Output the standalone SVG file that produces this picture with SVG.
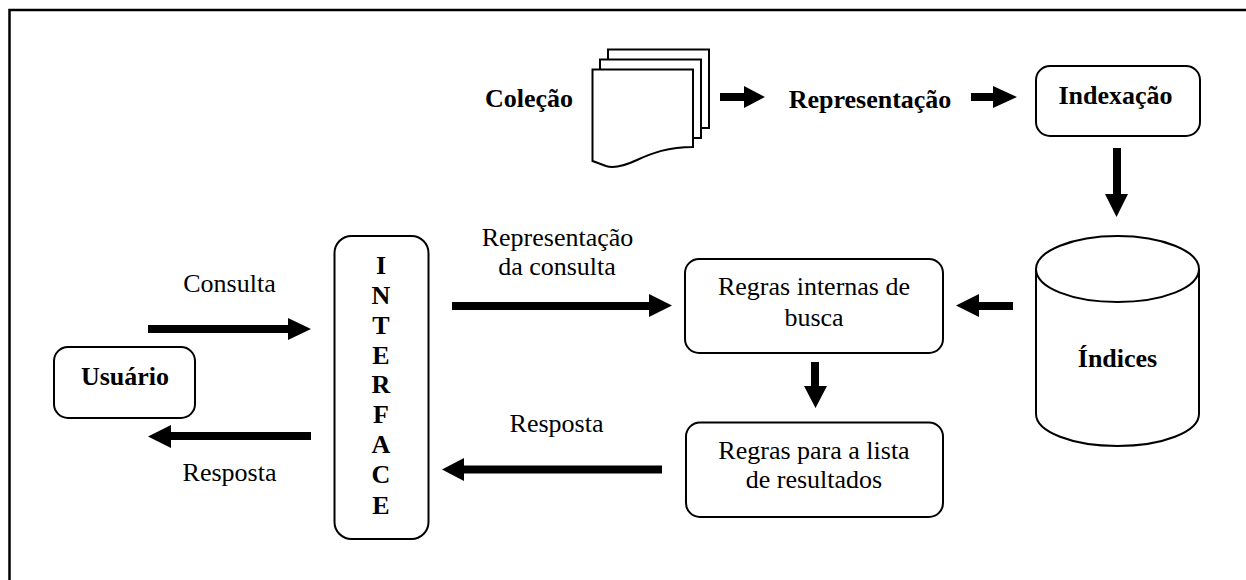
<svg xmlns="http://www.w3.org/2000/svg" width="1246" height="580" viewBox="0 0 1246 580">
<style>
text{font-family:"Liberation Serif","Times New Roman",serif;font-size:26px;fill:#000;text-anchor:middle}
.b{font-weight:bold}
.s{fill:#fff;stroke:#000;stroke-width:2}
.n{fill:none;stroke:#000;stroke-width:2}
.a{fill:#000;stroke:none}
</style>
<rect x="0" y="0" width="1246" height="580" fill="#fff"/>
<path d="M9.5 580V10H1246" fill="none" stroke="#000" stroke-width="2.5"/>
<g id="colecao">
<text class="b" x="529" y="107">Coleção</text>
<rect class="s" x="608" y="49.500" width="101" height="78.500"/>
<rect class="s" x="600" y="59.500" width="101" height="78.500"/>
<path class="s" d="M592.500 69.500H693V147C668 147 652 153 637 160C622 167 612 168 606 166L592.500 161Z"/>
</g>
<g id="representacao"><text class="b" x="870" y="108">Representação</text></g>
<g id="indexacao"><rect class="s" x="1036" y="66" width="164" height="70" rx="14"/><text class="b" x="1115.500" y="104">Indexação</text></g>
<g id="indices">
<path class="s" d="M1036 269V414C1036 432 1073 446 1117.500 446C1162 446 1199 432 1199 414V269C1199 251 1162 236 1117.500 236C1073 236 1036 251 1036 269Z"/>
<path class="n" d="M1036 269C1036 288 1073 302 1117.500 302C1162 302 1199 288 1199 269"/>
<text class="b" x="1117.500" y="367">Índices</text>
</g>
<g id="usuario"><rect class="s" x="54" y="347" width="141" height="71" rx="14"/><text class="b" x="125" y="385">Usuário</text></g>
<g id="interface">
<rect class="s" x="334.500" y="236" width="94" height="303" rx="17"/>
<text class="b" x="381" y="274">I</text>
<text class="b" x="381" y="304">N</text>
<text class="b" x="381" y="334">T</text>
<text class="b" x="381" y="364">E</text>
<text class="b" x="381" y="393">R</text>
<text class="b" x="381" y="423">F</text>
<text class="b" x="381" y="453">A</text>
<text class="b" x="381" y="483">C</text>
<text class="b" x="381" y="514">E</text>
</g>
<g id="regras-busca"><rect class="s" x="685" y="259" width="258" height="94" rx="14"/><text x="814" y="295">Regras internas de</text><text x="814" y="326">busca</text></g>
<g id="regras-lista"><rect class="s" x="686" y="422.500" width="257" height="94.500" rx="14"/><text x="814" y="459">Regras para a lista</text><text x="814" y="488">de resultados</text></g>
<g id="labels">
<text x="229.500" y="292">Consulta</text>
<text x="229.500" y="481">Resposta</text>
<text x="557.500" y="246">Representação</text>
<text x="557" y="275">da consulta</text>
<text x="556.500" y="432">Resposta</text>
</g>
<g id="connectors" class="a">
<path d="M720 93H744V86L765 97L744 108V101H720Z"/>
<path d="M971 93H993V86L1017 97L993 108V101H971Z"/>
<path d="M1113 148H1121V194H1128L1116.500 217L1105 194H1113Z"/>
<path d="M148 325H288V318L311 329L288 340V333H148Z"/>
<path d="M311 432H171V425L148 436.500L171 448V440H311Z"/>
<path d="M452 302H649V294L672 305.500L649 317V310H452Z"/>
<path d="M1013 302H979V294L956 305.500L979 317V310H1013Z"/>
<path d="M811 362H819V386H827L815.500 408L804 386H811Z"/>
<path d="M662 465.500H464V458L442 469.500L464 481V473.500H662Z"/>
</g>
</svg>
